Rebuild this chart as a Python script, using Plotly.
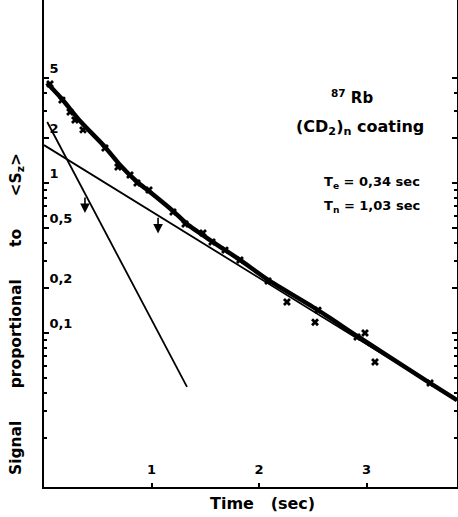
import plotly.graph_objects as go
import numpy as np

# ---- data ----
# fitted decay curve (thick line)
curve_t = [0.028, 0.167, 0.335, 0.567, 0.707, 0.865, 0.986, 1.20, 1.33, 1.572, 1.823, 2.084, 2.549, 2.912, 3.591, 3.842]
curve_s = [4.64, 3.63, 2.59, 1.74, 1.32, 1.02, 0.871, 0.651, 0.533, 0.404, 0.307, 0.226, 0.142, 0.0955, 0.0464, 0.0357]

# measured points (x crosses)
pts_t = [0.056, 0.167, 0.242, 0.288, 0.363, 0.567, 0.688, 0.80, 0.865, 0.977, 1.20, 1.312, 1.479,
         1.563, 1.684, 1.823, 2.084, 2.26, 2.521, 2.549, 2.912, 2.986, 3.079, 3.591]
pts_s = [4.57, 3.57, 2.97, 2.63, 2.26, 1.71, 1.28, 1.13, 1.00, 0.898, 0.641, 0.533, 0.464,
         0.404, 0.357, 0.307, 0.222, 0.161, 0.118, 0.142, 0.094, 0.100, 0.064, 0.0464]

# slow component (nuclear, T_n) straight line
slow_t = [0.0, 3.842]
slow_s = [1.79, 0.0357]

# fast component (electronic, T_e) straight line
fast_t = [0.03, 1.33]
fast_s = [2.55, 0.0437]

# downward arrows
arrow_t = [0.381, 1.061]
arrow_top = [0.82, 0.60]
arrow_bot = [0.63, 0.46]

# axis ticks
ytick_vals = [5, 2, 1, 0.5, 0.2, 0.1]
ytick_text = ["5", "2", "1", "0,5", "0,2", "0,1"]
yminor_vals = [0.02, 0.03, 0.04, 0.05, 0.06, 0.07, 0.08, 0.09, 0.3, 0.4, 0.6, 0.7, 0.8, 0.9, 3, 4]
xtick_vals = [1, 2, 3]
xtick_text = ["1", "2", "3"]

W, H = 458, 517
ML, MR, MT, MB = 44, 1, 0, 30
PW, PH = W - ML - MR, H - MT - MB


def px(xp):
    return (xp - ML) / PW


def py(yp):
    return (H - MB - yp) / PH


FONT = "DejaVu Sans"

fig = go.Figure()
fig.add_trace(go.Scatter(x=slow_t, y=slow_s, mode="lines", line=dict(color="black", width=1.8), hoverinfo="skip"))
fig.add_trace(go.Scatter(x=fast_t, y=fast_s, mode="lines", line=dict(color="black", width=1.8), hoverinfo="skip"))
fig.add_trace(go.Scatter(x=curve_t, y=curve_s, mode="lines", line=dict(color="black", width=4.5, shape="spline", smoothing=0.6), hoverinfo="skip"))
fig.add_trace(go.Scatter(x=pts_t, y=pts_s, mode="markers",
                         marker=dict(symbol="x", size=7, color="black", line=dict(width=0)), hoverinfo="skip"))

for t, a, b in zip(arrow_t, arrow_top, arrow_bot):
    fig.add_annotation(x=t, y=np.log10(b), ax=t, ay=np.log10(a), xref="x", yref="y", axref="x", ayref="y",
                       showarrow=True, arrowhead=2, arrowsize=1.2, arrowwidth=1.6, arrowcolor="black", text="")


def label(xp, yp, text, size, anchor="center", angle=0):
    fig.add_annotation(x=px(xp), y=py(yp), xref="paper", yref="paper", showarrow=False,
                       xanchor=anchor, yanchor="middle", textangle=angle, text=text,
                       font=dict(family=FONT, size=size, color="black", weight="bold"))


label(352, 97, "<sup>87</sup> Rb", 15)
label(360, 127, "(CD<sub>2</sub>)<sub>n</sub> coating", 16)
label(322, 182, "T<sub>e</sub> = 0,34 sec", 13, anchor="left")
label(322, 206, "T<sub>n</sub> = 1,03 sec", 13, anchor="left")
sp = "&nbsp;" * 6
label(17, 314, "Signal" + sp + "proportional" + sp + "to" + sp + "&lt;S<sub>z</sub>&gt;", 15.5, angle=-90)
label(262, 503, "Time&nbsp;&nbsp;&nbsp;(sec)", 16)

fig.update_layout(
    width=W, height=H, margin=dict(l=ML, r=MR, t=MT, b=MB),
    paper_bgcolor="white", plot_bgcolor="white", showlegend=False,
    font=dict(family=FONT, color="black"),
)
fig.update_xaxes(range=[0, PW / 107.5], showgrid=False, zeroline=False, showline=True, linecolor="black", linewidth=2,
                 ticks="inside", ticklen=4, tickwidth=1.5, tickcolor="black",
                 tickvals=xtick_vals, ticktext=xtick_text, ticklabelposition="inside", ticklabelstandoff=6,
                 tickfont=dict(family=FONT, size=13, color="black", weight="bold"))
fig.update_yaxes(type="log", range=[(183 - 487) / 150, (183 - 0) / 150], showgrid=False, zeroline=False,
                 showline=True, linecolor="black", linewidth=2, mirror="ticks",
                 ticks="inside", ticklen=5, tickwidth=1.5, tickcolor="black",
                 tickvals=ytick_vals, ticktext=ytick_text, ticklabelposition="inside top", ticklabelstandoff=4,
                 tickfont=dict(family=FONT, size=13, color="black", weight="bold"),
                 minor=dict(tickvals=yminor_vals, ticks="inside", ticklen=3, tickwidth=1.5, tickcolor="black", showgrid=False))

fig.write_html("out.html")
